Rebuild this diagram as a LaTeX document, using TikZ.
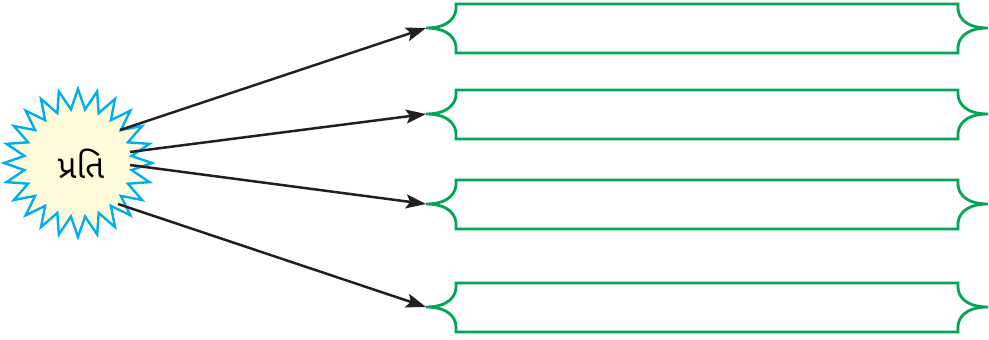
\documentclass[tikz,border=0pt]{standalone}
\usepackage{fontspec}
\usepackage{tikz}
\usetikzlibrary{shapes.geometric,arrows.meta}
\newfontfamily\gujfont[Script=Gujarati]{Noto Sans Gujarati UI}
\definecolor{starblue}{RGB}{0,174,239}
\definecolor{staryellow}{RGB}{255,251,218}
\definecolor{boxgreen}{RGB}{0,166,81}
\definecolor{arrowblack}{RGB}{35,31,32}
\tikzset{
  burst/.style={star,star points=24,star point ratio=1.37,minimum size=148pt,inner sep=0pt,
    draw=starblue,fill=staryellow,line width=2.4pt},
  framebox/.style={draw=boxgreen,line width=2.8pt},
  arr/.style={draw=arrowblack,line width=2.5pt,-{Stealth[length=20pt,width=14pt,inset=4pt]}}
}
\begin{document}
\begin{tikzpicture}[x=1pt,y=-1pt]
		\useasboundingbox (0,0) rectangle (989,340);
		\node[burst] (prati) at (78,163) {};
		\node at ([shift={(3,1)}]prati.center) {\gujfont\fontsize{33}{36}\selectfont પ્રતિ};
		% arrow starts on the burst
		\coordinate (s1) at ([shift={(42,-33)}]prati.center);
		\coordinate (s2) at ([shift={(52,-11)}]prati.center);
		\coordinate (s3) at ([shift={(52,2)}]prati.center);
		\coordinate (s4) at ([shift={(40,41)}]prati.center);
		% frames with curly ends
		\foreach \n/\ym in {1/28,2/114,3/204,4/307}{
			\coordinate (tip\n) at (426,\ym);
			\draw[framebox] (tip\n) .. controls (450,\ym) and (456,\ym-12) .. (456,\ym-20) -- (456,\ym-24)
				-- (958,\ym-24) -- (958,\ym-20) .. controls (958,\ym-12) and (964,\ym) .. (988,\ym)
				.. controls (964,\ym) and (958,\ym+12) .. (958,\ym+20) -- (958,\ym+25)
				-- (456,\ym+25) -- (456,\ym+20) .. controls (456,\ym+12) and (450,\ym) .. (tip\n);
		}
		\draw[arr] (s1) -- (tip1);
		\draw[arr] (s2) -- (tip2);
		\draw[arr] (s3) -- (tip3);
		\draw[arr] (s4) -- (tip4);
	\end{tikzpicture}
\end{document}
